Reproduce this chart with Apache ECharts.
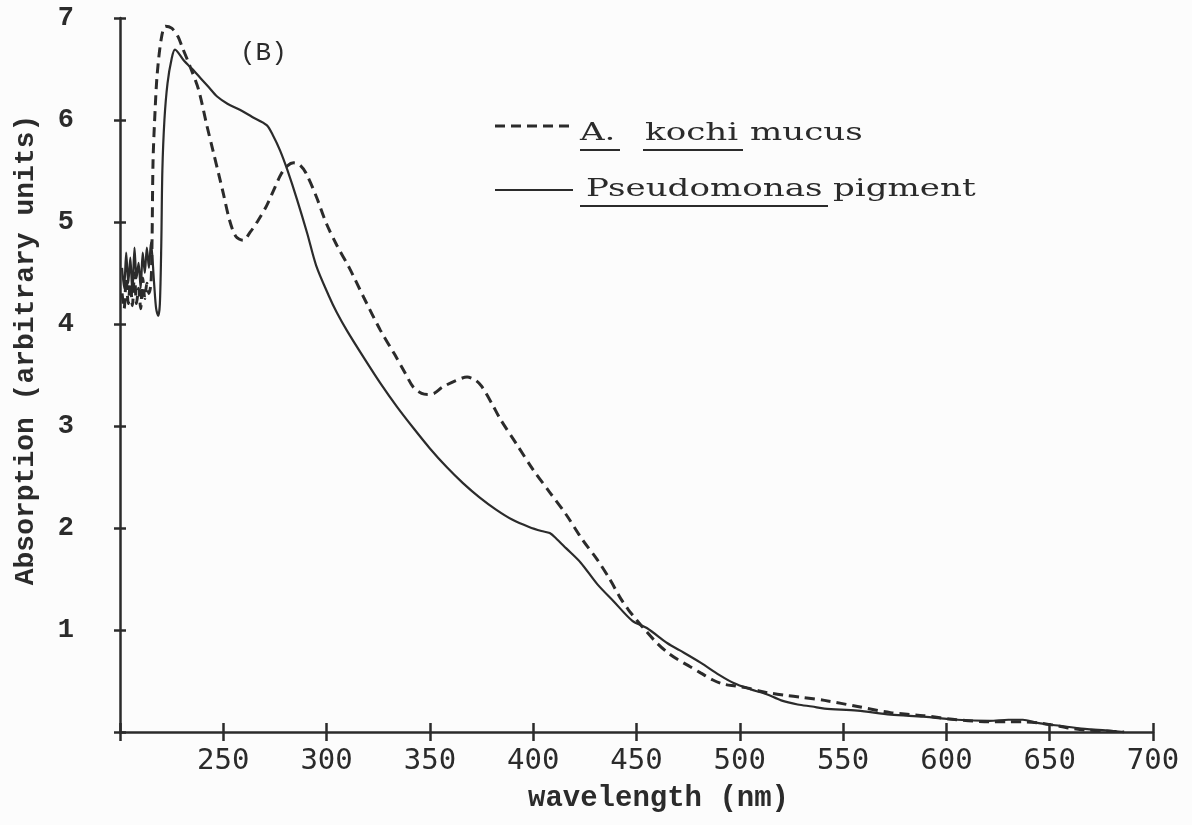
<!DOCTYPE html>
<html>
<head>
<meta charset="utf-8">
<script src="https://cdn.jsdelivr.net/npm/echarts@6/dist/echarts.min.js"></script>
<style>
html,body{margin:0;padding:0;background:#fcfcfc;}
#main{width:1192px;height:825px;}
</style>
</head>
<body>
<div id="main"></div>
<script>
// A. kochi mucus (dashed)
var kochiNm = [201,202,203,204,205,206,207,208,209,210,211,212,213,214,215,215.5,216,217,218,220,222,225,228,230,234,238,242,245,248,250,253,256,259.5,263,267,271,275,278,281,284,287,290,295,300,305,311,318,326,333,338,342,346,349,352,356,362,368,372,375,380,384,392,400,408,416,424,431,437,442,446,450,455,460,465,470,476,481,487,492,498,504,510,515,522,530,541,557,573,589,605,621,630,637,644,651,659,667,677,686];
var kochiAbs = [4.3,4.15,4.45,4.2,4.4,4.18,4.5,4.2,4.35,4.15,4.45,4.25,4.4,4.3,4.4,4.8,5.6,6.1,6.45,6.8,6.92,6.9,6.82,6.72,6.52,6.3,5.95,5.7,5.45,5.28,5.02,4.86,4.82,4.9,5.02,5.16,5.34,5.47,5.55,5.58,5.56,5.48,5.25,4.98,4.77,4.55,4.26,3.94,3.7,3.52,3.38,3.32,3.31,3.32,3.38,3.44,3.48,3.45,3.39,3.22,3.07,2.82,2.57,2.35,2.13,1.88,1.69,1.5,1.32,1.2,1.1,0.98,0.87,0.78,0.71,0.64,0.58,0.51,0.47,0.45,0.43,0.4,0.38,0.36,0.34,0.31,0.25,0.19,0.16,0.12,0.1,0.1,0.1,0.09,0.07,0.04,0.02,0.01,0.0];

// Pseudomonas pigment (solid)
var pseudoNm = [201,202,203,204,205,206,207,208,209,210,211,212,213,214,215,216.5,217.5,218.5,219.3,220,220.5,221.5,223,225,226.6,231,235,239,243,247,252,258,264,271,274,277.5,281,285.7,290.6,295,301,305,310,318,326,334,342,350,358,366,374,382,390,398,404,408,411,416,423,431,439,448,455,465,471,481,490,497,505,513,520,528,535,541,557,573,589,605,621,630,637,644,655,667,677,686];
var pseudoAbs = [4.55,4.35,4.7,4.4,4.65,4.3,4.75,4.45,4.6,4.35,4.7,4.5,4.75,4.55,4.8,4.4,4.15,4.08,4.2,4.8,5.5,6.0,6.36,6.6,6.69,6.58,6.5,6.41,6.32,6.23,6.16,6.1,6.03,5.95,5.85,5.7,5.51,5.22,4.89,4.57,4.28,4.11,3.93,3.67,3.42,3.19,2.98,2.78,2.6,2.44,2.3,2.18,2.08,2.01,1.97,1.95,1.9,1.8,1.66,1.45,1.28,1.09,1.02,0.87,0.8,0.68,0.56,0.48,0.42,0.37,0.31,0.27,0.25,0.23,0.21,0.17,0.15,0.12,0.11,0.12,0.12,0.09,0.06,0.03,0.015,0.0];

var xTicks = [250,300,350,400,450,500,550,600,650,700];
var yTicks = [1,2,3,4,5,6,7];

function pairs(xs, ys){
    var out = [];
    for (var i = 0; i < xs.length; i++) out.push([xs[i], ys[i]]);
    return out;
}

var ink = '#2b2b2b';
var myChart = echarts.init(document.getElementById('main'));

var legendFont = '24px "DejaVu Serif"';
var stretch = 1.42;

var option = {
    backgroundColor: '#fcfcfc',
    animation: false,
    grid: {left: 120, right: 39, top: 18, bottom: 93},
    xAxis: [{
        type: 'value', min: 200, max: 700, interval: 50,
        name: 'wavelength (nm)', nameLocation: 'middle', nameGap: 52,
        nameTextStyle: {fontFamily: 'Liberation Mono', fontWeight: 'bold', fontSize: 29, color: ink, padding: [0, 0, 0, 44]},
        axisLine: {lineStyle: {color: ink, width: 2.5}},
        axisTick: {length: 9, lineStyle: {color: ink, width: 2.5}},
        splitLine: {show: false},
        axisLabel: {
            margin: 15, fontFamily: 'DejaVu Sans Mono', fontSize: 29, color: ink,
            formatter: function(v){ return xTicks.indexOf(v) >= 0 ? String(v) : ''; }
        }
    }, {
        type: 'value', min: 200, max: 700, interval: 50, position: 'bottom',
        axisLine: {show: false},
        axisTick: {inside: true, length: 9, lineStyle: {color: ink, width: 2.5}},
        axisLabel: {show: false}, splitLine: {show: false}
    }],
    yAxis: [{
        type: 'value', min: 0, max: 7, interval: 1,
        name: 'Absorption (arbitrary units)', nameLocation: 'middle', nameGap: 80,
        nameTextStyle: {fontFamily: 'Liberation Mono', fontWeight: 'bold', fontSize: 28, color: ink, padding: [0, 0, 0, 50]},
        axisLine: {show: true, lineStyle: {color: ink, width: 2.5}},
        axisTick: {show: true, length: 6, lineStyle: {color: ink, width: 2.5}},
        splitLine: {show: false},
        axisLabel: {
            margin: 46, fontFamily: 'Liberation Mono', fontWeight: 'bold', fontSize: 27, color: ink,
            formatter: function(v){ return yTicks.indexOf(v) >= 0 ? String(v) : ''; }
        }
    }, {
        type: 'value', min: 0, max: 7, interval: 1, position: 'left',
        axisLine: {show: false},
        axisTick: {show: true, inside: true, length: 6, lineStyle: {color: ink, width: 2.5}},
        axisLabel: {show: false}, splitLine: {show: false}
    }],
    series: [{
        name: 'A. kochi mucus', type: 'line', showSymbol: false, smooth: 0.3,
        data: pairs(kochiNm, kochiAbs),
        lineStyle: {color: ink, width: 3, type: [10, 6]}
    }, {
        name: 'Pseudomonas pigment', type: 'line', showSymbol: false, smooth: 0.3,
        data: pairs(pseudoNm, pseudoAbs),
        lineStyle: {color: ink, width: 2.2}
    }],
    graphic: [
        {type: 'text', x: 240, y: 53, style: {text: '(B)', font: '26px "Liberation Mono"', fill: ink, verticalAlign: 'middle'}},
        // legend
        {type: 'line', shape: {x1: 495, y1: 126, x2: 570, y2: 126}, style: {stroke: ink, lineWidth: 3, lineDash: [10, 6]}},
        {type: 'text', x: 580, y: 134, scaleX: stretch, style: {text: 'A.', font: legendFont, fill: ink, verticalAlign: 'middle'}},
        {type: 'text', x: 645, y: 134, scaleX: stretch, style: {text: 'kochi', font: legendFont, fill: ink, verticalAlign: 'middle'}},
        {type: 'text', x: 750, y: 134, scaleX: stretch, style: {text: 'mucus', font: legendFont, fill: ink, verticalAlign: 'middle'}},
        {type: 'line', shape: {x1: 580, y1: 150, x2: 620, y2: 150}, style: {stroke: ink, lineWidth: 2}},
        {type: 'line', shape: {x1: 643, y1: 150, x2: 743, y2: 150}, style: {stroke: ink, lineWidth: 2}},
        {type: 'line', shape: {x1: 495, y1: 190, x2: 573, y2: 190}, style: {stroke: ink, lineWidth: 2.2}},
        {type: 'text', x: 586, y: 190, scaleX: stretch, style: {text: 'Pseudomonas', font: legendFont, fill: ink, verticalAlign: 'middle'}},
        {type: 'text', x: 833, y: 190, scaleX: stretch, style: {text: 'pigment', font: legendFont, fill: ink, verticalAlign: 'middle'}},
        {type: 'line', shape: {x1: 580, y1: 206, x2: 828, y2: 206}, style: {stroke: ink, lineWidth: 2}}
    ]
};

myChart.setOption(option);
</script>
</body>
</html>
